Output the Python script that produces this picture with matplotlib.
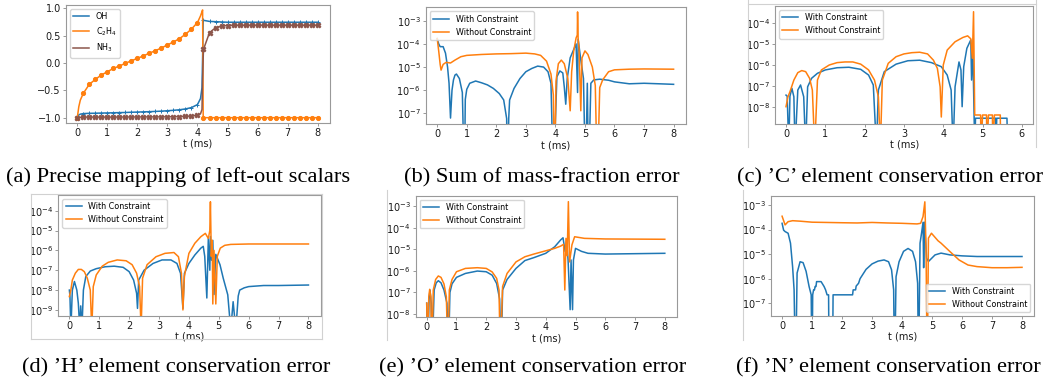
import numpy as np
import matplotlib
matplotlib.use('Agg')
import matplotlib.pyplot as plt
from matplotlib.ticker import NullLocator
from matplotlib.lines import Line2D

# ---- (a) left-out scalars ----
a_t = [0.00, 0.05, 0.10, 0.20, 0.40, 0.60, 0.80, 1.00, 1.20, 1.40, 1.60, 1.80, 2.00,
       2.20, 2.40, 2.60, 2.80, 3.00, 3.20, 3.40, 3.60, 3.80, 4.00, 4.10, 4.15, 4.17,
       4.19, 4.20, 4.40, 4.60, 4.80, 5.00, 5.20, 5.40, 5.60, 5.80, 6.00, 6.20, 6.40,
       6.60, 6.80, 7.00, 7.20, 7.40, 7.60, 7.80, 8.00]
a_oh = [-0.98, -0.95, -0.935, -0.925, -0.92, -0.918, -0.915, -0.913, -0.91, -0.907,
        -0.905, -0.90, -0.897, -0.893, -0.89, -0.885, -0.88, -0.873, -0.865, -0.855,
        -0.84, -0.815, -0.76, -0.65, -0.45, 0.10, 0.79, 0.78, 0.76, 0.755, 0.75,
        0.745, 0.745, 0.745, 0.745, 0.745, 0.745, 0.745, 0.745, 0.745, 0.745, 0.745,
        0.745, 0.745, 0.745, 0.745, 0.745]
a_c2h4 = [-1.0, -0.80, -0.68, -0.555, -0.39, -0.30, -0.22, -0.16, -0.10, -0.055,
          -0.006, 0.04, 0.085, 0.13, 0.18, 0.225, 0.275, 0.33, 0.385, 0.445, 0.525,
          0.62, 0.74, 0.86, 0.94, 0.97, -1.0, -1.0, -1.0, -1.0, -1.0, -1.0, -1.0,
          -1.0, -1.0, -1.0, -1.0, -1.0, -1.0, -1.0, -1.0, -1.0, -1.0, -1.0, -1.0,
          -1.0, -1.0]
a_nh3 = [-1.0, -1.0, -0.995, -0.99, -0.99, -0.99, -0.99, -0.99, -0.99, -0.989,
         -0.989, -0.988, -0.988, -0.987, -0.987, -0.986, -0.986, -0.985, -0.983,
         -0.98, -0.975, -0.97, -0.955, -0.93, -0.85, -0.30, 0.10, 0.25, 0.555, 0.645,
         0.675, 0.685, 0.69, 0.69, 0.69, 0.69, 0.69, 0.69, 0.69, 0.69, 0.69, 0.69,
         0.69, 0.69, 0.69, 0.69, 0.69]

# ---- (b) sum of mass fractions ----
b_t_with = [0.00, 0.05, 0.10, 0.20, 0.28, 0.35, 0.40, 0.45, 0.50, 0.55, 0.60, 0.65,
            0.75, 0.85, 0.92, 0.95, 1.00, 1.10, 1.30, 1.50, 1.70, 1.90, 2.10, 2.25,
            2.35, 2.38, 2.42, 2.45, 2.60, 2.80, 3.00, 3.20, 3.40, 3.60, 3.75, 3.85,
            3.93, 4.05, 4.15, 4.25, 4.30, 4.35, 4.40, 4.50, 4.60, 4.70, 4.75, 4.77,
            4.85, 4.95, 5.02, 5.08, 5.12, 5.20, 5.30, 5.50, 5.80, 6.00, 6.50, 7.00,
            7.50, 8.00]
b_with = [1.7e-4, 1.0e-4, 7.6e-5, 7.6e-5, 4.0e-5, 1.0e-5, 2.0e-6, 6.3e-8, 1.0e-6,
          2.8e-6, 4.5e-6, 5.0e-6, 3.2e-6, 8.0e-7, 1e-10, 4.0e-7, 1.1e-6, 2.0e-6,
          2.5e-6, 2.1e-6, 1.7e-6, 1.2e-6, 7.2e-7, 3.8e-7, 6.0e-8, 1e-10, 6.0e-8,
          3.8e-7, 1.2e-6, 3.2e-6, 6.3e-6, 8.7e-6, 1.1e-5, 1.0e-5, 6.3e-6, 2.0e-6,
          1e-10, 3.8e-6, 6.8e-6, 5.6e-6, 1.4e-6, 2.5e-7, 3.2e-6, 2.5e-5, 5.0e-5,
          1.0e-4, 8.0e-7, 1.6e-4, 2.5e-5, 3.2e-6, 1e-10, 2.0e-6, 1e-10, 2.0e-6,
          2.8e-6, 3.0e-6, 2.7e-6, 2.3e-6, 1.9e-6, 2.0e-6, 1.9e-6, 1.8e-6]
b_t_without = [0.00, 0.05, 0.10, 0.13, 0.20, 0.30, 0.45, 0.60, 0.80, 1.00, 1.50, 2.00,
               2.50, 3.00, 3.30, 3.50, 3.70, 3.85, 3.93, 3.97, 4.02, 4.10, 4.20, 4.30,
               4.42, 4.50, 4.55, 4.62, 4.70, 4.74, 4.75, 4.77, 4.80, 4.86, 4.90, 5.00,
               5.10, 5.25, 5.35, 5.42, 5.50, 5.60, 5.80, 6.00, 6.50, 7.00, 8.00]
b_without = [1.7e-4, 5.0e-5, 1.3e-5, 7.4e-6, 1.3e-5, 1.6e-5, 1.5e-5, 2.0e-5, 2.8e-5,
             3.2e-5, 3.5e-5, 3.7e-5, 3.8e-5, 4.0e-5, 3.7e-5, 3.2e-5, 1.8e-5, 5.0e-6,
             6.3e-7, 1e-10, 2.5e-6, 1.4e-5, 2.0e-5, 1.4e-5, 3.2e-6, 1.3e-7, 6.3e-6,
             5.0e-5, 1.8e-4, 2.4e-4, 2.4e-3, 1.6e-4, 6.3e-5, 1.3e-7, 2.5e-5, 5.0e-5,
             3.5e-5, 1.0e-5, 1.6e-6, 1e-10, 1.3e-6, 2.8e-6, 6.3e-6, 7.6e-6, 8.1e-6,
             8.3e-6, 8.1e-6]

# ---- (c) C element ----
c_t_with = [0.00, 0.03, 0.07, 0.10, 0.15, 0.20, 0.23, 0.30, 0.37, 0.45, 0.50, 0.55,
            0.65, 0.80, 1.00, 1.30, 1.60, 1.90, 2.10, 2.22, 2.30, 2.35, 2.50, 2.80,
            3.10, 3.40, 3.70, 3.95, 4.10, 4.20, 4.25, 4.30, 4.40, 4.45, 4.48, 4.52,
            4.60, 4.70, 4.72, 4.75, 4.80, 4.82, 5.33, 5.34, 5.36, 5.62, 5.64, 6.00]
c_with = [3.6e-8, 3.2e-8, 1e-10, 3.2e-8, 7.6e-8, 3.0e-8, 1e-10, 6.3e-8, 1.1e-7, 3.0e-8,
          1e-10, 9.0e-8, 2.3e-7, 4.0e-7, 5.8e-7, 7.4e-7, 7.8e-7, 6.2e-7, 3.3e-7, 1.1e-7,
          1e-10, 6.3e-8, 4.8e-7, 1.1e-6, 1.6e-6, 1.7e-6, 1.3e-6, 8.3e-7, 3.3e-7, 6.3e-8,
          1e-10, 9.0e-8, 1.4e-6, 5.8e-7, 1.0e-8, 8.3e-7, 6.3e-6, 1.6e-5, 1.9e-7, 9.0e-6,
          1e-10, 2.8e-9, 2.8e-9, 1e-10, 2.8e-9, 2.8e-9, 1e-10, 1e-10]
c_t_without = [0.00, 0.05, 0.10, 0.20, 0.30, 0.40, 0.50, 0.60, 0.67, 0.73, 0.80, 0.90,
               1.10, 1.30, 1.50, 1.70, 1.90, 2.10, 2.25, 2.35, 2.40, 2.45, 2.60, 2.80,
               3.00, 3.20, 3.40, 3.60, 3.75, 3.85, 3.92, 3.95, 3.98, 4.00, 4.10, 4.30,
               4.50, 4.62, 4.70, 4.74, 4.77, 4.80, 4.95, 4.96, 5.00, 5.10, 5.11, 5.15,
               5.25, 5.26, 5.30, 5.45, 5.46, 6.00]
c_without = [1.0e-8, 3.0e-8, 5.2e-8, 1.9e-7, 4.3e-7, 5.4e-7, 4.8e-7, 2.3e-7, 6.3e-8,
             1e-10, 1.9e-7, 5.8e-7, 1.0e-6, 1.3e-6, 1.4e-6, 1.4e-6, 1.1e-6, 5.8e-7,
             1.9e-7, 3.0e-8, 1e-10, 1.9e-7, 1.2e-6, 2.5e-6, 3.4e-6, 3.9e-6, 4.1e-6,
             3.4e-6, 1.7e-6, 6.9e-7, 9.0e-8, 3.2e-9, 1.0e-7, 1.0e-6, 5.2e-6, 1.3e-5,
             2.1e-5, 2.5e-5, 1.8e-5, 2.1e-6, 3.6e-4, 4.0e-9, 4.0e-9, 1e-10, 4.0e-9,
             4.0e-9, 1e-10, 4.0e-9, 4.0e-9, 1e-10, 4.0e-9, 4.0e-9, 1e-10, 1e-10]

# ---- (d) H element ----
d_t_with = [0.00, 0.02, 0.05, 0.10, 0.17, 0.25, 0.30, 0.35, 0.38, 0.42, 0.47, 0.55,
            0.70, 0.90, 1.20, 1.50, 1.80, 2.00, 2.15, 2.25, 2.28, 2.32, 2.50, 2.80,
            3.10, 3.40, 3.60, 3.72, 3.80, 3.85, 4.00, 4.20, 4.40, 4.48, 4.53, 4.60,
            4.65, 4.70, 4.72, 4.76, 4.80, 4.84, 4.90, 5.04, 5.15, 5.30, 5.40, 5.48,
            5.57, 5.65, 5.70, 5.85, 6.00, 6.50, 7.00, 8.00]
d_with = [1.0e-8, 5.0e-9, 1e-10, 1.0e-8, 2.7e-8, 1.0e-8, 2.2e-9, 1e-10, 1.6e-9, 1e-10,
          1.0e-8, 4.8e-8, 9.1e-8, 1.2e-7, 1.5e-7, 1.6e-7, 1.4e-7, 8.5e-8, 3.2e-8,
          6.9e-9, 1.2e-9, 3.2e-8, 1.0e-7, 2.2e-7, 3.3e-7, 3.3e-7, 2.2e-7, 7.0e-8,
          1.2e-9, 7.0e-8, 2.2e-7, 5.9e-7, 1.3e-6, 1.6e-6, 5.0e-7, 4.0e-9, 4.0e-6,
          1.0e-7, 5.0e-6, 3.2e-7, 3.2e-6, 6.0e-9, 6.3e-7, 1.9e-7, 3.9e-8, 5.8e-9,
          1e-10, 2.6e-9, 1e-10, 5.0e-9, 1.0e-8, 1.3e-8, 1.5e-8, 1.7e-8, 1.7e-8, 1.8e-8]
d_t_without = [0.00, 0.05, 0.10, 0.20, 0.30, 0.40, 0.50, 0.60, 0.70, 0.75, 0.80, 0.90,
               1.10, 1.30, 1.60, 1.90, 2.10, 2.25, 2.35, 2.40, 2.45, 2.60, 2.90, 3.20,
               3.50, 3.65, 3.75, 3.80, 3.85, 4.00, 4.20, 4.40, 4.55, 4.65, 4.70, 4.72,
               4.75, 4.78, 4.80, 4.84, 4.90, 4.95, 5.05, 5.20, 5.40, 6.00, 8.00]
d_without = [4.7e-9, 1.0e-8, 3.2e-8, 7.1e-8, 1.1e-7, 1.1e-7, 8.5e-8, 4.0e-8, 1.0e-8,
             1e-10, 1.5e-8, 5.8e-8, 1.6e-7, 2.5e-7, 3.3e-7, 3.0e-7, 1.9e-7, 7.1e-8,
             1.5e-8, 1e-10, 4.0e-8, 1.9e-7, 4.8e-7, 7.1e-7, 7.8e-7, 4.8e-7, 7.1e-8,
             1.0e-9, 5.0e-8, 7.1e-7, 2.3e-6, 4.9e-6, 7.2e-6, 4.0e-6, 1.0e-5, 2.8e-4,
             5.0e-7, 3.2e-6, 2.0e-9, 1.0e-6, 2.0e-9, 5.0e-7, 1.3e-6, 1.8e-6, 2.0e-6,
             2.1e-6, 2.1e-6]

# ---- (e) O element ----
e_t_with = [0.00, 0.03, 0.08, 0.11, 0.15, 0.18, 0.25, 0.32, 0.39, 0.48, 0.58, 0.68,
            0.73, 0.78, 0.85, 1.00, 1.30, 1.70, 2.00, 2.20, 2.35, 2.45, 2.50, 2.55,
            2.70, 3.00, 3.30, 3.60, 4.00, 4.30, 4.50, 4.58, 4.65, 4.70, 4.75, 4.82,
            4.85, 4.90, 4.93, 5.00, 5.20, 5.42, 6.00, 8.00]
e_with = [3.2e-8, 1e-10, 5.0e-8, 1.3e-7, 3.2e-8, 1e-10, 1.3e-7, 2.8e-7, 3.5e-7, 2.8e-7,
          1.3e-7, 3.2e-8, 1e-10, 1.0e-7, 2.5e-7, 5.0e-7, 7.6e-7, 9.8e-7, 9.1e-7, 6.3e-7,
          2.6e-7, 5.0e-8, 1e-10, 1.3e-7, 4.0e-7, 1.3e-6, 3.0e-6, 4.1e-6, 6.5e-6, 1.3e-5,
          2.7e-5, 3.4e-5, 8.0e-6, 2.5e-5, 3.2e-6, 1.6e-8, 3.2e-6, 1.6e-8, 3.2e-6, 1.1e-5,
          8.0e-6, 6.5e-6, 6.0e-6, 6.5e-6]
e_t_without = [0.00, 0.03, 0.07, 0.10, 0.14, 0.17, 0.22, 0.30, 0.39, 0.48, 0.58, 0.66,
               0.71, 0.76, 0.85, 1.00, 1.30, 1.70, 2.00, 2.20, 2.35, 2.43, 2.47, 2.55,
               2.70, 3.00, 3.30, 3.60, 4.00, 4.30, 4.50, 4.60, 4.64, 4.68, 4.72, 4.76,
               4.80, 4.88, 4.97, 5.30, 6.00, 8.00]
e_without = [3.2e-8, 1e-10, 6.3e-8, 1.4e-7, 6.3e-8, 1e-10, 1.3e-7, 4.0e-7, 5.8e-7,
             5.0e-7, 2.5e-7, 6.3e-8, 1e-10, 1.3e-7, 4.0e-7, 9.1e-7, 1.3e-6, 1.4e-6,
             1.3e-6, 8.9e-7, 4.5e-7, 1.3e-7, 1e-10, 1.9e-7, 7.6e-7, 2.6e-6, 4.5e-6,
             6.0e-6, 8.5e-6, 1.1e-5, 1.4e-5, 1.7e-5, 1.3e-7, 3.2e-5, 5.0e-6, 1.6e-3,
             2.6e-6, 1.6e-5, 3.8e-5, 3.2e-5, 3.0e-5, 2.9e-5]

# ---- (f) N element ----
f_t_with = [0.00, 0.05, 0.10, 0.20, 0.28, 0.35, 0.40, 0.45, 0.50, 0.60, 0.70, 0.80,
            0.90, 0.97, 1.00, 1.02, 1.05, 1.08, 1.10, 1.13, 1.15, 1.30, 1.40, 1.45,
            1.50, 1.55, 1.57, 1.68, 1.70, 2.35, 2.37, 2.45, 2.47, 2.55, 2.60, 2.80,
            3.00, 3.20, 3.40, 3.55, 3.65, 3.72, 3.75, 3.80, 3.90, 4.05, 4.20, 4.35,
            4.45, 4.52, 4.55, 4.60, 4.65, 4.70, 4.72, 4.75, 4.82, 4.88, 5.10, 5.30,
            5.60, 6.00, 6.50, 7.00, 8.00]
f_with = [1.8e-4, 9.5e-5, 8.3e-5, 7.1e-5, 2.8e-5, 3.1e-6, 3.5e-7, 1e-10, 1.7e-6, 4.9e-6,
          4.5e-6, 2.0e-6, 4.8e-7, 2.2e-7, 1e-10, 2.2e-7, 3.5e-7, 3.5e-7, 4.8e-7, 4.8e-7,
          7.6e-7, 7.6e-7, 4.8e-7, 3.5e-7, 2.2e-7, 2.2e-7, 1e-10, 1e-10, 2.2e-7, 2.2e-7,
          3.5e-7, 3.5e-7, 5.0e-7, 6.5e-7, 1.0e-6, 2.4e-6, 4.0e-6, 5.2e-6, 5.8e-6,
          4.9e-6, 2.3e-6, 3.5e-7, 1e-10, 1.2e-6, 4.9e-6, 1.3e-5, 1.7e-5, 1.3e-5,
          4.9e-6, 6.5e-7, 1e-10, 2.8e-5, 7.1e-5, 2.0e-4, 2.8e-6, 2.0e-4, 6.8e-6,
          5.0e-6, 9.3e-6, 1.1e-5, 9.3e-6, 8.5e-6, 8.0e-6, 8.0e-6, 8.0e-6]
f_t_without = [0.00, 0.10, 0.20, 0.35, 0.60, 1.00, 1.50, 2.00, 2.50, 3.00, 3.50, 4.00,
               4.50, 4.62, 4.70, 4.76, 4.80, 4.84, 4.88, 4.98, 5.20, 5.30, 5.60, 5.90,
               6.20, 6.50, 7.00, 7.50, 8.00]
f_without = [3.5e-4, 1.55e-4, 2.1e-4, 2.3e-4, 2.2e-4, 2.0e-4, 1.95e-4, 1.9e-4, 1.86e-4,
             1.95e-4, 1.86e-4, 1.8e-4, 1.7e-4, 1.8e-4, 3.4e-4, 1.35e-3, 1.6e-5, 1e-10,
             4.5e-5, 7.1e-5, 3.5e-5, 2.8e-5, 1.26e-5, 5.8e-6, 3.6e-6, 3.1e-6, 2.8e-6,
             2.8e-6, 2.9e-6]

captions = ['(a) Precise mapping of left-out scalars',
            '(b) Sum of mass-fraction error',
            '(c) \u2019C\u2019 element conservation error',
            '(d) \u2019H\u2019 element conservation error',
            '(e) \u2019O\u2019 element conservation error',
            '(f) \u2019N\u2019 element conservation error']

W, H = 1058.0, 381.0
fig = plt.figure(figsize=(W / 100, H / 100), dpi=100)


def rect(l, r, t, b):
    return [l / W, 1 - b / H, (r - l) / W, (b - t) / H]


def style(ax):
    for s in ax.spines.values():
        s.set_color('0.6')
        s.set_linewidth(0.8)
    ax.tick_params(colors='0.6', labelcolor='0.1', labelsize=7, length=2.5,
                   width=0.7, pad=1.2)
    ax.set_xlabel('t (ms)', fontsize=7, labelpad=0.5, color='0.1')


def log_panel(pos, tw, w, two, wo, ylim, yticks, xlim, xticks, loc):
    ax = fig.add_axes(rect(*pos))
    ax.plot(tw, w, color='tab:blue', lw=1.1, label='With Constraint')
    ax.plot(two, wo, color='tab:orange', lw=1.1, label='Without Constraint')
    ax.set_yscale('log')
    ax.set_ylim(ylim)
    ax.set_yticks(yticks)
    ax.yaxis.set_minor_locator(NullLocator())
    ax.set_xlim(xlim)
    ax.set_xticks(xticks)
    style(ax)
    ax.legend(loc=loc, fontsize=5.8, framealpha=0.8)
    return ax


# (a)
ax = fig.add_axes(rect(66, 330, 5, 123))
t = np.array(a_t)
mark = np.isclose(np.round(t / 0.2) * 0.2, t)
for vals, col, mk, ms, lab in [(a_oh, 'tab:blue', '+', 2.5, 'OH'),
                               (a_c2h4, 'tab:orange', 'o', 3, 'C$_2$H$_4$'),
                               (a_nh3, 'tab:brown', 'X', 3.5, 'NH$_3$')]:
    v = np.array(vals)
    ax.plot(t, v, color=col, lw=1.1, label=lab)
    ax.plot(t[mark], v[mark], ls='none', marker=mk, ms=ms, color=col, mew=0.7)
ax.set_xlim(-0.376, 8.41)
ax.set_ylim(-1.097, 1.06)
ax.set_yticks([-1.0, -0.5, 0.0, 0.5, 1.0])
ax.set_xticks(range(9))
style(ax)
ax.legend(loc='upper left', fontsize=5.8, framealpha=0.8)

log_panel((425.7, 685.7, 7.3, 124.3), b_t_with, b_with, b_t_without, b_without,
          (10 ** -7.47, 10 ** -2.42), [1e-7, 1e-6, 1e-5, 1e-4, 1e-3],
          (-0.39, 8.41), range(9), 'upper left')
log_panel((775, 1033.3, 6, 124), c_t_with, c_with, c_t_without, c_without,
          (10 ** -8.83, 10 ** -3.17), [1e-8, 1e-7, 1e-6, 1e-5, 1e-4],
          (-0.28, 6.29), range(7), 'upper left')
log_panel((58.3, 320.7, 195, 315.7), d_t_with, d_with, d_t_without, d_without,
          (10 ** -9.29, 10 ** -3.21), [1e-9, 1e-8, 1e-7, 1e-6, 1e-5, 1e-4],
          (-0.37, 8.41), range(9), 'upper left')
log_panel((415.7, 677, 195.7, 317.3), e_t_with, e_with, e_t_without, e_without,
          (10 ** -8.15, 10 ** -2.52), [1e-8, 1e-7, 1e-6, 1e-5, 1e-4, 1e-3],
          (-0.37, 8.41), range(9), 'upper left')
log_panel((771, 1034.3, 195.7, 316), f_t_with, f_with, f_t_without, f_without,
          (10 ** -7.52, 10 ** -2.62), [1e-7, 1e-6, 1e-5, 1e-4, 1e-3],
          (-0.37, 8.41), range(9), 'lower right')

# light frames left over from the pasted sub-figures
frames = [((748, 748), (0, 147)), ((748, 1036), (4, 4)), ((1036, 1036), (0, 147)),
          ((30.7, 30.7), (194, 339)), ((30.7, 321.7), (194, 194)),
          ((321.7, 321.7), (194, 339)), ((30.7, 321.7), (339, 339)),
          ((387, 387), (190, 340)), ((743, 743), (190, 340))]
for xs, ys in frames:
    fig.add_artist(Line2D([x / W for x in xs], [1 - y / H for y in ys],
                          transform=fig.transFigure, color='0.82', lw=0.8))

# captions
cap_pos = [(178.5, 177.5), (542, 177.5), (890, 177.5),
           (176, 368), (533, 368), (888.5, 368)]
for txt, (x, y) in zip(captions, cap_pos):
    fig.text(x / W, 1 - y / H, txt, ha='center', va='center',
             family='Liberation Serif', fontsize=16.2)

fig.savefig('out.png', dpi=100)
